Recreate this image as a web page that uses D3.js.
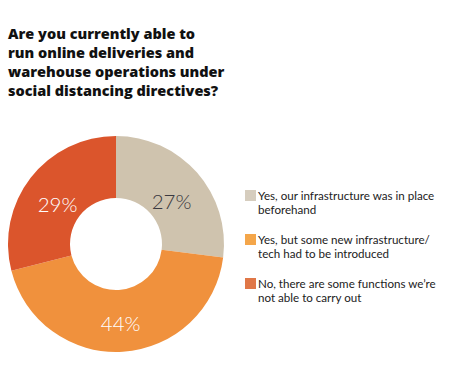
<!DOCTYPE html>
<html><head><meta charset="utf-8">
<script src="https://cdn.jsdelivr.net/npm/d3@7"></script>
<style>body{margin:0;background:#fff}svg{display:block}</style>
</head><body>
<script>
const titleLines = ["Are you currently able to","run online deliveries and","warehouse operations under","social distancing directives?"];
const categories = ["Yes, our infrastructure was in place beforehand","Yes, but some new infrastructure/ tech had to be introduced","No, there are some functions we’re not able to carry out"];
const legendLines = [["Yes, our infrastructure was in place","beforehand"],["Yes, but some new infrastructure/","tech had to be introduced"],["No, there are some functions we’re","not able to carry out"]];
const values = [27,44,29];
const sliceColors = ["#cfc3ae","#f0913d","#db552c"];
const swatchColors = ["#d6cdbe","#f4a64a","#e07747"];
const labelColors = ["#3a3940","#ffffff","#ffffff"];

const W=461,H=371;
const svg=d3.select("body").append("svg").attr("width",W).attr("height",H);

svg.append("g").selectAll("text").data(titleLines).join("text")
 .attr("x",8).attr("y",(d,i)=>39+i*19)
 .attr("font-family","Open Sans").attr("font-weight",800).attr("font-size",14.5)
 .attr("fill","#111").text(d=>d);

const cx=116,cy=244,R=108,r=46;
const pie=d3.pie().sort(null).value(d=>d);
const arc=d3.arc().innerRadius(r).outerRadius(R);
const labelArc=d3.arc().innerRadius(74).outerRadius(74);
const g=svg.append("g").attr("transform",`translate(${cx},${cy})`);
const arcs=pie(values);
g.selectAll("path").data(arcs).join("path").attr("d",arc).attr("fill",(d,i)=>sliceColors[i]);
g.selectAll("text").data(arcs).join("text")
 .attr("transform",d=>`translate(${labelArc.centroid(d)})`)
 .attr("text-anchor","middle").attr("dy","0.66em")
 .attr("font-family","Lato").attr("font-weight",300).attr("font-size",20.5)
 .attr("fill",(d,i)=>labelColors[i]).text(d=>d.data+"%");

const lg=svg.append("g");
const gy=d3.scalePoint().domain(d3.range(categories.length)).range([190,278]);
categories.forEach((c,i)=>{
  const y0=gy(i);
  lg.append("rect").attr("x",245).attr("y",y0).attr("width",11).attr("height",11).attr("fill",swatchColors[i]);
  lg.append("text").attr("x",258).attr("y",y0+9.5)
   .attr("font-family","Lato").attr("font-size",11.6).attr("fill","#222")
   .selectAll("tspan").data(legendLines[i]).join("tspan")
   .attr("x",258).attr("dy",(d,j)=>j?14:0).text(d=>d);
});
</script>
</body></html>
